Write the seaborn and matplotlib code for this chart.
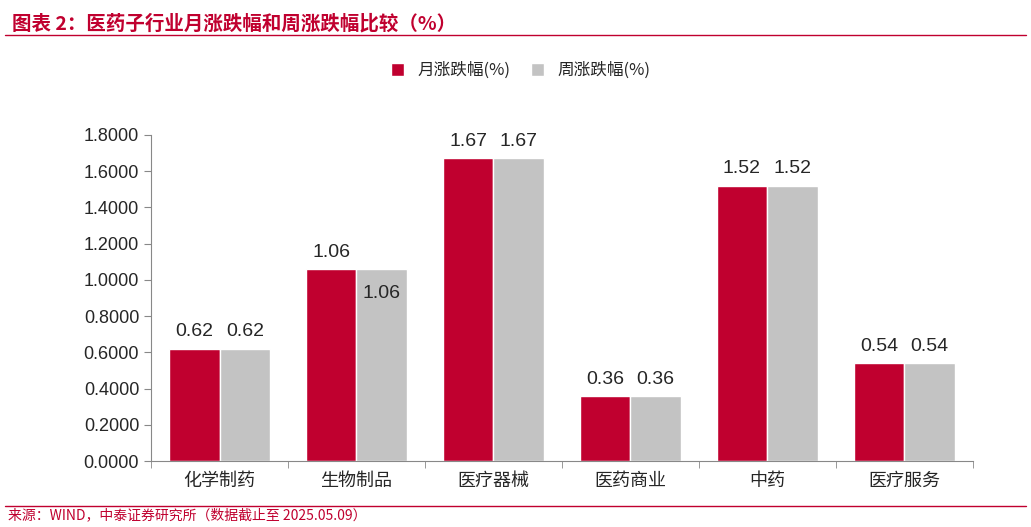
import matplotlib
matplotlib.use("Agg")
import matplotlib.pyplot as plt
import seaborn as sns
import pandas as pd
import numpy as np
from matplotlib.ticker import FixedLocator

categories = ["化学制药", "生物制品", "医疗器械", "医药商业", "中药", "医疗服务"]
monthly = [0.62, 1.06, 1.67, 0.36, 1.52, 0.54]
weekly = [0.62, 1.06, 1.67, 0.36, 1.52, 0.54]
series = ["月涨跌幅(%)", "周涨跌幅(%)"]

sns.set_style("white")
plt.rcParams['font.family'] = ['Noto Sans CJK SC', 'DejaVu Sans']

df = pd.DataFrame({
    "cat": categories * 2,
    "val": monthly + weekly,
    "s": [series[0]] * 6 + [series[1]] * 6,
})

fig = plt.figure(figsize=(10.31, 5.27), dpi=100)
ax = fig.add_axes([0.1465, 0.125, 0.797, 0.619])
sns.barplot(data=df, x="cat", y="val", hue="s", palette=["#C0002F", "#C3C3C3"],
            width=0.74, saturation=1, ax=ax, legend=True)

ax.set_ylim(0, 1.8)
ax.set_yticks(np.arange(0, 1.81, 0.2))
ax.set_yticklabels([f"{v:.4f}" for v in np.arange(0, 1.81, 0.2)], fontsize=13,
                   family="Liberation Sans")
ax.set_xlabel("")
ax.set_ylabel("")
ax.tick_params(axis="x", labelsize=13, length=0, pad=8)
ax.tick_params(axis="y", length=5, color="#888888", left=True)
ax.xaxis.set_minor_locator(FixedLocator(np.arange(-0.5, 6, 1)))
ax.tick_params(axis="x", which="minor", length=5, color="#888888", bottom=True)
for s in ["top", "right"]:
    ax.spines[s].set_visible(False)
for s in ["left", "bottom"]:
    ax.spines[s].set_color("#888888")

for i, c in enumerate(ax.containers):
    labels = [f"{v:.2f}" for v in c.datavalues]
    if i == 1:
        # the 生物制品 weekly label sits inside its bar in the original
        inside = labels[:]
        labels[1] = ""
        ax.bar_label(c, labels=["" if j != 1 else inside[1] for j in range(6)],
                     label_type="edge", padding=-24, fontsize=14, family="Liberation Sans")
    ax.bar_label(c, labels=labels, padding=6, fontsize=14, family="Liberation Sans")

ax.legend(loc="upper center", bbox_to_anchor=(0.45, 1.27), ncol=2, frameon=False,
          fontsize=12, handlelength=0.8, handleheight=0.8, columnspacing=1.2)

fig.text(0.012, 0.955, "图表 2：医药子行业月涨跌幅和周涨跌幅比较（%）", color="#C0002F",
         fontsize=14, fontweight="bold", style="italic", va="center")
fig.add_artist(plt.Line2D([0.005, 0.995], [0.933, 0.933], color="#C0002F", lw=1))
fig.add_artist(plt.Line2D([0.005, 0.995], [0.04, 0.04], color="#C0002F", lw=1))
fig.text(0.008, 0.022, "来源：WIND，中泰证券研究所（数据截止至 2025.05.09）", color="#C0002F",
         fontsize=10, va="center")

fig.savefig("out.png", dpi=100)
